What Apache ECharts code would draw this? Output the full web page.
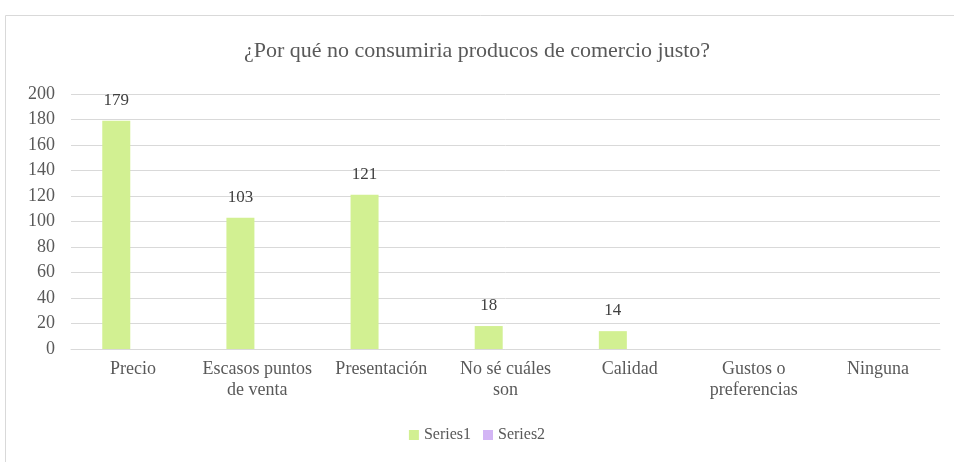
<!DOCTYPE html>
<html>
<head>
<meta charset="utf-8">
<script src="https://cdn.jsdelivr.net/npm/echarts@6/dist/echarts.min.js"></script>
<style>html,body{margin:0;padding:0;background:#fff}#c{width:954px;height:462px}</style>
</head>
<body>
<div id="c"></div>
<script>
const categories = ['Precio', 'Escasos puntos\nde venta', 'Presentación', 'No sé cuáles\nson', 'Calidad', 'Gustos o\npreferencias', 'Ninguna'];
const series1 = [179, 103, 121, 18, 14, null, null];
const series2 = [null, null, null, null, null, null, null];
const yTicks = [0, 20, 40, 60, 80, 100, 120, 140, 160, 180, 200];

const font = '"Liberation Serif", "Times New Roman", serif';
const chart = echarts.init(document.getElementById('c'));
chart.setOption({
  animation: false,
  graphic: [{
    type: 'rect', shape: {x: 5.5, y: 15.5, width: 960, height: 460},
    style: {fill: 'none', stroke: '#d9d9d9', lineWidth: 1}, silent: true
  }],
  title: {
    text: '¿Por qué no consumiria producos de comercio justo?',
    left: 'center', top: 35,
    textStyle: {fontFamily: font, fontSize: 22, fontWeight: 'normal', color: '#595959'}
  },
  legend: {
    bottom: 14, left: 'center', itemWidth: 10, itemHeight: 10, itemGap: 12,
    icon: 'rect',
    textStyle: {fontFamily: font, fontSize: 16, color: '#595959'},
    data: ['Series1', 'Series2']
  },
  grid: {left: 71, right: 14, top: 94, bottom: 113, containLabel: false},
  xAxis: {
    type: 'category', data: categories,
    axisLine: {lineStyle: {color: '#d9d9d9'}},
    axisTick: {show: false},
    axisLabel: {fontFamily: font, fontSize: 18, color: '#595959', interval: 0, lineHeight: 21, margin: 10}
  },
  yAxis: {
    type: 'value', min: yTicks[0], max: yTicks[yTicks.length - 1], interval: 20,
    axisLine: {show: false}, axisTick: {show: false},
    splitLine: {lineStyle: {color: '#d9d9d9', width: 1}},
    axisLabel: {fontFamily: font, fontSize: 18, color: '#595959', margin: 16}
  },
  series: [
    {
      name: 'Series1', type: 'bar', data: series1, barWidth: 28, barGap: '20%',
      itemStyle: {color: '#d2f092'},
      label: {show: true, position: 'top', distance: 12, fontFamily: font, fontSize: 17, color: '#404040'}
    },
    {
      name: 'Series2', type: 'bar', data: series2, barWidth: 28,
      itemStyle: {color: '#d3b5f5'}
    }
  ]
});
</script>
</body>
</html>
